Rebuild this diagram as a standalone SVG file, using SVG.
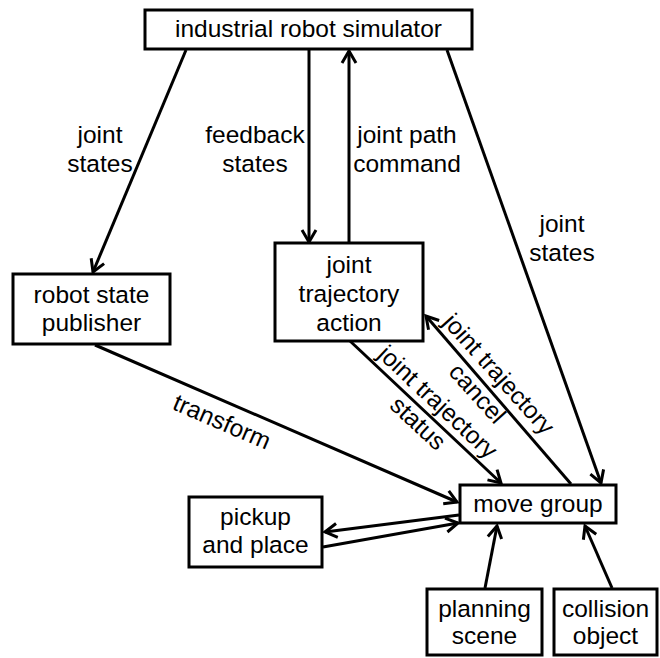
<svg xmlns="http://www.w3.org/2000/svg" width="660" height="658" viewBox="0 0 660 658">
  <style>
    .box { fill: #ffffff; stroke: #000000; stroke-width: 3; }
    .lbl { font-family: "Liberation Sans", Arial, sans-serif; font-size: 24.5px; fill: #000000; text-anchor: middle; }
    .edge { fill: none; stroke: #000000; stroke-width: 3; }
    .arr { marker-end: url(#head); }
  </style>
  <defs>
    <marker id="head" markerUnits="userSpaceOnUse" markerWidth="20" markerHeight="20" viewBox="-14 -10 16 20" refX="0" refY="0" orient="auto">
      <path d="M -12 -7 L 0 0 L -12 7" fill="none" stroke="#000000" stroke-width="3"/>
    </marker>
  </defs>
  <rect width="660" height="658" fill="#ffffff"/>

  <g id="connectors">
    <path class="edge arr" d="M 186 50 L 93 272"/>
    <path class="edge arr" d="M 309 50 L 309 242"/>
    <path class="edge arr" d="M 349 242 L 349 51"/>
    <path class="edge arr" d="M 447 50 L 601 483"/>
    <path class="edge arr" d="M 350 341 L 501 483"/>
    <path class="edge arr" d="M 571 484 L 426 316"/>
    <path class="edge arr" d="M 95 345 L 457 502"/>
    <path class="edge arr" d="M 459 515 L 325 532"/>
    <path class="edge arr" d="M 323 547 L 458 523"/>
    <path class="edge arr" d="M 485 588 L 497 526"/>
    <path class="edge arr" d="M 612 588 L 585 526"/>

    <text class="lbl"><tspan x="100" y="143">joint</tspan><tspan x="100" y="172">states</tspan></text>
    <text class="lbl"><tspan x="255" y="143">feedback</tspan><tspan x="255" y="172">states</tspan></text>
    <text class="lbl"><tspan x="407" y="143">joint path</tspan><tspan x="407" y="172">command</tspan></text>
    <text class="lbl"><tspan x="562" y="232">joint</tspan><tspan x="562" y="261">states</tspan></text>
    <text class="lbl" transform="translate(222 422) rotate(23.4)" y="8">transform</text>
    <text class="lbl" transform="translate(437 403) rotate(43)"><tspan x="0" y="7">joint trajectory</tspan><tspan x="0" y="36">status</tspan></text>
    <text class="lbl" transform="translate(498 375) rotate(48)"><tspan x="0" y="7">joint trajectory</tspan><tspan x="0" y="36">cancel</tspan></text>
  </g>

  <g id="industrial-robot-simulator">
    <rect class="box" x="145" y="10" width="327" height="39"/>
    <text class="lbl" x="308.5" y="37">industrial robot simulator</text>
  </g>
  <g id="robot-state-publisher">
    <rect class="box" x="13" y="274" width="157" height="70"/>
    <text class="lbl"><tspan x="91.5" y="303">robot state</tspan><tspan x="91.5" y="331">publisher</tspan></text>
  </g>
  <g id="joint-trajectory-action">
    <rect class="box" x="275" y="243" width="148" height="98"/>
    <text class="lbl"><tspan x="349" y="273">joint</tspan><tspan x="349" y="302">trajectory</tspan><tspan x="349" y="331">action</tspan></text>
  </g>
  <g id="move-group">
    <rect class="box" x="460" y="485" width="156" height="38"/>
    <text class="lbl" x="538" y="512">move group</text>
  </g>
  <g id="pickup-and-place">
    <rect class="box" x="189" y="497" width="133" height="70"/>
    <text class="lbl"><tspan x="255.5" y="525">pickup</tspan><tspan x="255.5" y="553">and place</tspan></text>
  </g>
  <g id="planning-scene">
    <rect class="box" x="427" y="589" width="115" height="66"/>
    <text class="lbl"><tspan x="484.5" y="617">planning</tspan><tspan x="484.5" y="644">scene</tspan></text>
  </g>
  <g id="collision-object">
    <rect class="box" x="554" y="589" width="103" height="66"/>
    <text class="lbl"><tspan x="605.5" y="617">collision</tspan><tspan x="605.5" y="644">object</tspan></text>
  </g>
</svg>
